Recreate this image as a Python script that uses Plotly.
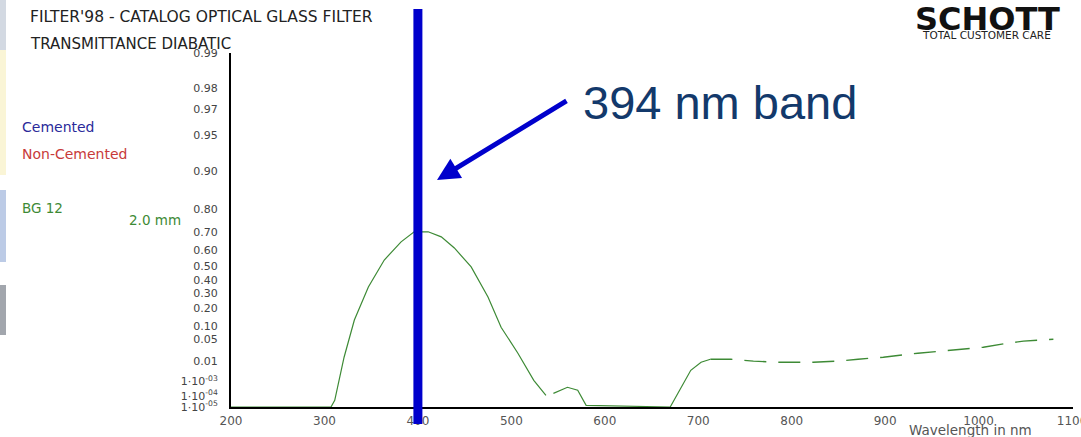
import numpy as np
import plotly.graph_objects as go

# ---------------- data ----------------
# BG 12 (2.0 mm) transmittance curve
wl_main = [200, 307, 311, 321, 332, 347, 364, 382, 396, 411, 425, 439, 457, 475, 489, 507, 524, 537,
           None,
           545, 560, 571, 580, 670, 692, 703, 713]
t_main = [1e-5, 1e-5, 4.2e-5, 0.0139, 0.13, 0.347, 0.539, 0.65, 0.703, 0.703, 0.677, 0.615, 0.492,
          0.275, 0.095, 0.0193, 0.00115, 1.1e-4,
          None,
          1.55e-4, 4.2e-4, 2.6e-4, 1.46e-5, 1e-5, 0.0039, 0.0089, 0.0117]
wl_tail = [713, 735, 759, 785, 823, 849, 871, 898, 935, 970, 1005, 1031, 1048, 1080]
t_tail = [0.0117, 0.0117, 0.0098, 0.0089, 0.0089, 0.0098, 0.0117, 0.0139, 0.0193, 0.0243,
          0.030, 0.0395, 0.0448, 0.0504]

y_tick_values = [0.99, 0.98, 0.97, 0.95, 0.90, 0.80, 0.70, 0.60, 0.50, 0.40, 0.30, 0.20,
                 0.10, 0.05, 0.01, 1e-3, 1e-4, 1e-5]
y_tick_labels = ["0.99", "0.98", "0.97", "0.95", "0.90", "0.80", "0.70", "0.60", "0.50",
                 "0.40", "0.30", "0.20", "0.10", "0.05", "0.01",
                 "1·10<sup>-03</sup>", "1·10<sup>-04</sup>", "1·10<sup>-05</sup>"]
x_tick_values = [200, 300, 400, 500, 600, 700, 800, 900, 1000, 1100]
x_tick_labels = ["200", "300", "400", "500", "600", "700", "800", "900", "1000", "1100"]
band_marker_nm = 400   # where the "394 nm band" marker is drawn


def diabatic(t):
    """Diabatic transmittance scale: 1 - log10(log10(1/T))."""
    out = []
    for v in t:
        if v is None:
            out.append(None)
        else:
            out.append(1 - np.log10(np.log10(1.0 / v)))
    return out


# ---------------- layout geometry ----------------
W, H = 1081, 437
L, R, T, B = 231, 8, 53, 30
PW, PH = W - L - R, H - T - B


def px(xp):
    return (xp - L) / PW


def py(yp):
    return (H - B - yp) / PH


green = "#3d8a35"
fig = go.Figure()
fig.add_trace(go.Scatter(x=wl_main, y=diabatic(t_main), mode="lines",
                         line=dict(color=green, width=1.2), connectgaps=False,
                         hoverinfo="skip", showlegend=False))
fig.add_trace(go.Scatter(x=wl_tail, y=diabatic(t_tail), mode="lines",
                         line=dict(color=green, width=1.4, dash="22px,12px"),
                         hoverinfo="skip", showlegend=False))

ymin = diabatic([1e-5])[0]
ymax = diabatic([0.99])[0]

fig.update_layout(
    width=W, height=H,
    margin=dict(l=L, r=R, t=T, b=B, pad=0, autoexpand=False),
    paper_bgcolor="white", plot_bgcolor="white",
    font=dict(family="DejaVu Sans", color="#444"),
    xaxis=dict(range=[200, 1101], tickvals=x_tick_values, ticktext=x_tick_labels,
               showgrid=False, zeroline=False, showline=True, linecolor="black",
               linewidth=2, ticks="", tickfont=dict(size=12, color="#555"),
               ticklabelstandoff=2, ticklabeloverflow="allow", automargin=False),
    yaxis=dict(range=[ymin, ymax], tickvals=diabatic(y_tick_values), ticktext=y_tick_labels,
               showgrid=False, zeroline=False, showline=True, linecolor="black",
               linewidth=2, ticks="", tickfont=dict(size=11, color="#444"),
               ticklabelstandoff=9, automargin=False),
)

# left edge remnants of the slide background
strip = [(0, 50, "#d3d9e2"), (50, 175, "#faf5d6"), (190, 262, "#bccbe6"),
         (285, 335, "#a2a6ad")]
for y0, y1, c in strip:
    fig.add_shape(type="rect", xref="paper", yref="paper", x0=px(0), x1=px(6),
                  y0=py(y1), y1=py(y0), fillcolor=c, line=dict(width=0), layer="below")

# blue band marker line
fig.add_shape(type="line", xref="x", yref="paper", x0=band_marker_nm, x1=band_marker_nm,
              y0=py(424), y1=py(9), line=dict(color="#0000cc", width=9))

ann = []
ann.append(dict(text="FILTER'98 - CATALOG OPTICAL GLASS FILTER", x=px(28), y=py(17),
                xanchor="left", yanchor="middle", font=dict(size=15.5, color="#222")))
ann.append(dict(text="TRANSMITTANCE DIABATIC", x=px(28), y=py(44),
                xanchor="left", yanchor="middle", font=dict(size=15, color="#222")))
ann.append(dict(text="Cemented", x=px(20), y=py(127), xanchor="left", yanchor="middle",
                font=dict(size=14, color="#2a2a9a")))
ann.append(dict(text="Non-Cemented", x=px(20), y=py(154), xanchor="left", yanchor="middle",
                font=dict(size=14, color="#c83a3a")))
ann.append(dict(text="BG 12", x=px(20), y=py(208), xanchor="left", yanchor="middle",
                font=dict(size=13.5, color=green)))
ann.append(dict(text="2.0 mm", x=px(183), y=py(220), xanchor="right", yanchor="middle",
                font=dict(size=13.5, color=green)))
ann.append(dict(text="Wavelength in nm", x=px(970), y=py(430), xanchor="center",
                yanchor="middle", font=dict(size=13.5, color="#555")))
ann.append(dict(text="<b>SCHOTT</b>", x=px(987), y=py(19), xanchor="center",
                yanchor="middle", font=dict(size=32, color="#111", family="DejaVu Sans")))
ann.append(dict(text="TOTAL CUSTOMER CARE", x=px(986), y=py(35), xanchor="center",
                yanchor="middle", font=dict(size=10.5, color="#222")))
ann.append(dict(text="394 nm band", x=px(581), y=py(102), xanchor="left", yanchor="middle",
                font=dict(size=47, color="#13396b", family="Liberation Sans")))
# arrow
ann.append(dict(text="", x=px(437), y=py(180), ax=131, ay=-80, showarrow=True,
                arrowhead=2, arrowsize=0.9, arrowwidth=5, arrowcolor="#0000cc"))

for a in ann:
    a.setdefault("xref", "paper")
    a.setdefault("yref", "paper")
    a.setdefault("showarrow", False)
    fig.add_annotation(**a)

fig.write_html("out.html")
